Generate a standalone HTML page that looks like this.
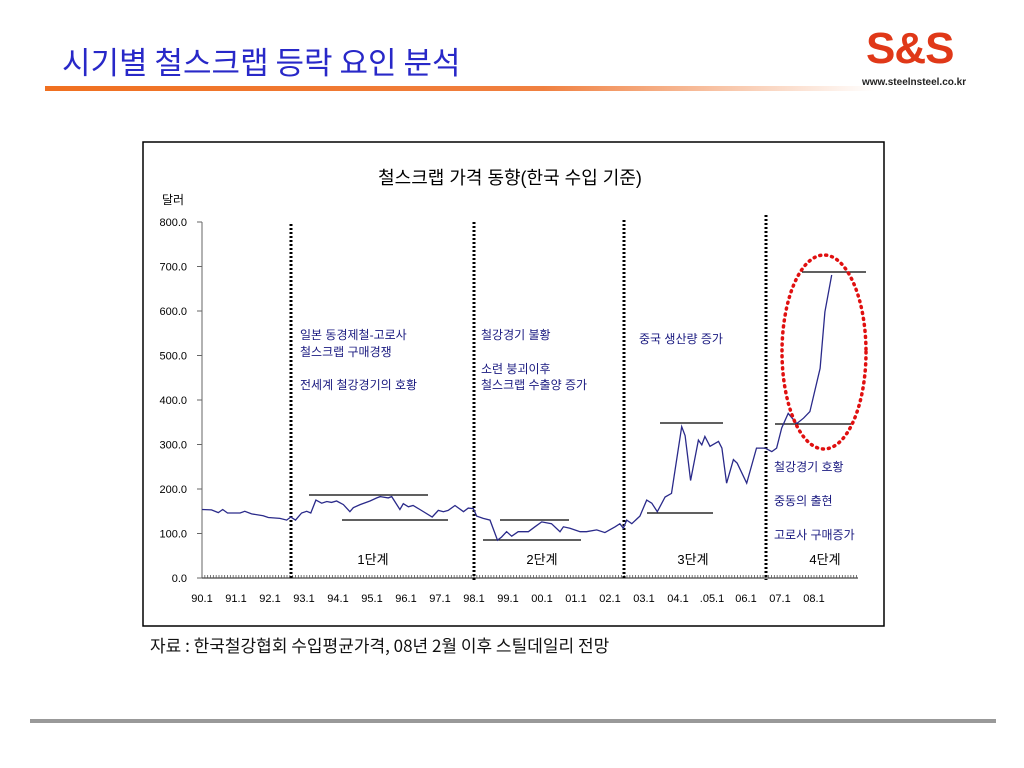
<!DOCTYPE html>
<html><head><meta charset="utf-8">
<style>
body{margin:0;width:1024px;height:768px;background:#fff;overflow:hidden;font-family:"Liberation Sans","Noto Sans CJK KR",sans-serif;}
</style></head><body>
<div style="position:absolute;left:62px;top:38px;font-size:31px;color:#2828c8;font-family:'Noto Sans CJK KR',sans-serif;">시기별 철스크랩 등락 요인 분석</div>
<div style="position:absolute;left:45px;top:86px;width:830px;height:5px;background:linear-gradient(to right,#f07020 0%,#f08040 60%,#fff 100%);"></div>
<div style="position:absolute;left:866px;top:24px;font-size:44px;font-weight:bold;color:#e03818;letter-spacing:-1px;font-family:'Liberation Sans',sans-serif;">S&amp;S</div>
<div style="position:absolute;left:862px;top:77px;font-size:10px;color:#222;font-weight:bold;">www.steelnsteel.co.kr</div>
<div style="position:absolute;left:30px;top:719px;width:966px;height:4px;background:#999;"></div>
<div style="position:absolute;left:150px;top:632px;font-size:17px;color:#111;font-family:'Noto Sans CJK KR',sans-serif;">자료 : 한국철강협회 수입평균가격, 08년 2월 이후 스틸데일리 전망</div>
<svg id="chart" width="1024" height="768" style="position:absolute;left:0;top:0" xmlns="http://www.w3.org/2000/svg" font-family="Liberation Sans, Noto Sans CJK KR, sans-serif"></svg>
<script>
const years=[1990.0,1990.28,1990.48,1990.61,1990.75,1991.12,1991.26,1991.46,1991.8,1991.95,1992.29,1992.49,1992.61,1992.75,1992.93,1993.08,1993.2,1993.35,1993.52,1993.67,1993.81,1993.96,1994.16,1994.35,1994.45,1994.65,1994.94,1995.14,1995.24,1995.48,1995.58,1995.82,1995.92,1996.07,1996.21,1996.41,1996.77,1996.95,1997.1,1997.24,1997.44,1997.69,1997.83,1997.98,1998.08,1998.27,1998.47,1998.69,1998.81,1998.96,1999.11,1999.3,1999.6,1999.79,1999.99,2000.28,2000.53,2000.63,2000.82,2001.12,2001.31,2001.61,2001.85,2002.15,2002.29,2002.39,2002.49,2002.64,2002.88,2003.08,2003.23,2003.39,2003.62,2003.81,2004.11,2004.21,2004.37,2004.6,2004.7,2004.79,2004.94,2005.19,2005.29,2005.43,2005.63,2005.74,2006.02,2006.31,2006.56,2006.76,2006.9,2007.05,2007.24,2007.49,2007.69,2007.88,2008.18,2008.32,2008.52];
const prices=[154,153,147,154,146,146,150,144,140,136,134,130,137,130,146,150,146,175,168,172,170,173,165,149,158,165,173,180,183,180,183,154,167,160,163,154,137,152,149,152,163,149,157,156,139,134,130,85,92,104,94,104,104,115,126,122,104,115,112,104,104,108,102,115,122,112,130,122,139,175,168,149,182,190,340,320,219,310,299,318,296,307,292,213,266,258,213,292,292,284,292,337,370,347,359,374,471,598,681];
const yTicks=[0,100,200,300,400,500,600,700,800];
const xLabels=['90.1','91.1','92.1','93.1','94.1','95.1','96.1','97.1','98.1','99.1','00.1','01.1','02.1','03.1','04.1','.05.1','06.1','07.1','08.1'];
const svg=document.getElementById('chart');
const NS='http://www.w3.org/2000/svg';
function X(t){return 202+(t-1990)*34;}
function Y(v){return 578-v*0.445;}
function mk(tag,attrs,txt){const e=document.createElementNS(NS,tag);for(const k in attrs)e.setAttribute(k,attrs[k]);if(txt!==undefined)e.textContent=txt;svg.appendChild(e);return e;}
let e;
e=mk('rect',{x:143,y:142,width:741,height:484,fill:'#fff',stroke:'#000','stroke-width':1.5});

e=mk('text',{x:510,y:184,'font-size':18,'text-anchor':'middle',fill:'#000'},'철스크랩 가격 동향(한국 수입 기준)');

e=mk('text',{x:162,y:204,'font-size':12,fill:'#000'},'달러');

e=mk('line',{x1:202,y1:222,x2:202,y2:578,stroke:'#666'});

e=mk('line',{x1:202,y1:578,x2:858,y2:578,stroke:'#666','stroke-width':1.5});

yTicks.forEach(v=>{
 e=mk('line',{x1:197,y1:Y(v),x2:202,y2:Y(v),stroke:'#666'});
 
 e=mk('text',{x:187,y:Y(v)+4,'font-size':11,'text-anchor':'end',fill:'#000'},v.toFixed(1));
 
});
for(let m=0;m<=231;m++){
 e=mk('line',{x1:X(1990+m/12),y1:575,x2:X(1990+m/12),y2:578,stroke:'#555','stroke-width':0.8});
 
}
xLabels.forEach((l,i)=>{
 e=mk('text',{x:X(1990+i),y:602,'font-size':11,'text-anchor':'middle',fill:'#000'},l);
 
});
[[291,224],[474,222],[624,220],[766,215]].forEach(d=>{
 e=mk('line',{x1:d[0],y1:d[1],x2:d[0],y2:580,stroke:'#000','stroke-width':3,'stroke-dasharray':'2,2'});
 
});
[[309,428,495],[342,448,520],[500,569,520],[483,581,540],[660,723,423],[647,713,513],[802,866,272],[775,851,424]].forEach(d=>{
 e=mk('line',{x1:d[0],y1:d[2],x2:d[1],y2:d[2],stroke:'#000','stroke-width':1.2});
 
});
e=mk('polyline',{points:years.map((t,i)=>X(t).toFixed(1)+','+Y(prices[i]).toFixed(1)).join(' '),fill:'none',stroke:'#2a2a8a','stroke-width':1.3});

e=mk('ellipse',{cx:824,cy:352,rx:42,ry:97,fill:'none',stroke:'#e01010','stroke-width':3.5,'stroke-dasharray':'1,5','stroke-linecap':'round'});

const notes=[[300,339,'일본 동경제철-고로사'],[300,356,'철스크랩 구매경쟁'],[300,389,'전세계 철강경기의 호황'],[481,339,'철강경기 불황'],[481,373,'소련 붕괴이후'],[481,389,'철스크랩 수출양 증가'],[639,343,'중국 생산량 증가'],[774,471,'철강경기 호황'],[774,505,'중동의 출현'],[774,539,'고로사 구매증가']];
notes.forEach(n=>{
 e=mk('text',{x:n[0],y:n[1],'font-size':12,fill:'#1a1a80'},n[2]);
 
});
[[373,'1단계'],[542,'2단계'],[693,'3단계'],[825,'4단계']].forEach(s=>{
 e=mk('text',{x:s[0],y:564,'font-size':13,'text-anchor':'middle',fill:'#000'},s[1]);
 
});
</script>
</body></html>
